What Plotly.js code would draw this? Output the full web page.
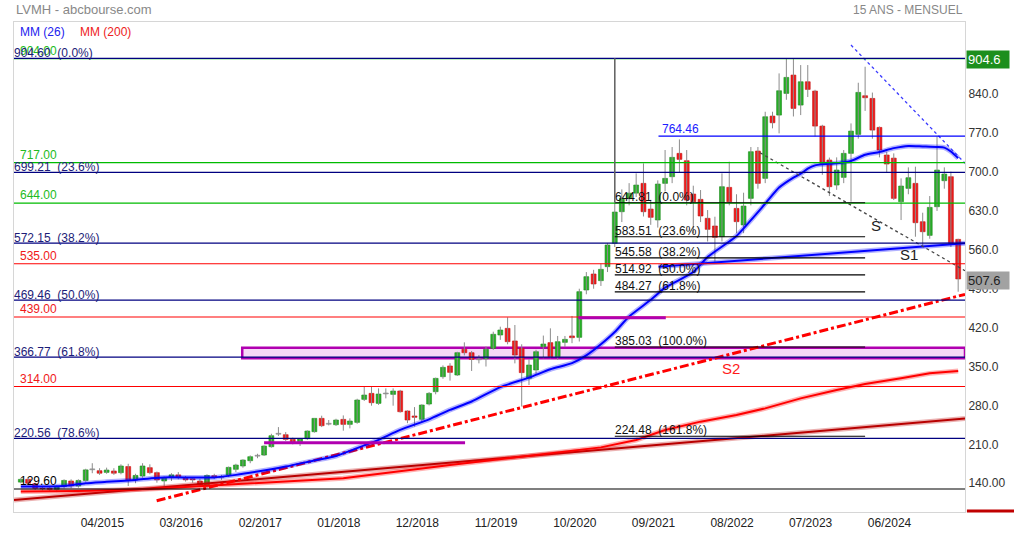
<!DOCTYPE html>
<html><head><meta charset="utf-8">
<script src="https://cdn.plot.ly/plotly-3.0.1.min.js"></script>
<style>html,body{margin:0;padding:0;background:#fff;}#chart{width:1014px;height:538px;}</style>
</head><body><div id="chart"></div>
<script>
// ---------- DATA ----------
const firstMonth = '2014-05';
const opens = [142,147,139,131,131,129,134,144,135,145,165,162.5,159.5,162,159,170,146,153,168,159,144,150,155,149,148,144,135,153.5,151,154.7,165,171,180.5,189.5,190.7,205.7,229,227.3,218.9,214.7,220.1,232.7,256.7,247,245.3,254.9,245.9,249.5,290.9,301.7,283.7,301.5,299.9,306,270,261,255,282.5,304.7,331.7,351,334.7,381,374.9,363,364,382.7,406.7,418.7,396,382.7,328.7,343.7,385.7,393,367.7,393.5,405,402.5,487.7,516.5,504.5,529.7,571.7,628.6,652,662,679.6,633.4,613.7,679.6,691.6,733.6,720.4,660.4,650.8,616.7,602.9,583.7,672.4,634.6,604.7,652.6,737.8,688.6,800.7,802.5,841.5,874.5,820.5,862.5,845.7,782.7,721.6,676.6,690.4,733.6,767.7,837.3,832.5,780.3,730.6,725,646.6,670.6,679.6,610.6,586,637.6,684.4,691.6,578.8];
const highs = [149,149,141,135,134,136,147,147,147,166,176,167,168,167,174,175,157,176,174,161,152,158,160,153,151,148,156,157,155,170,175,183,190,193,208,229,241,232,222,221,235,257,261.5,253.7,256,262,256.7,292,313.7,313.7,310.7,310.7,310.7,308,271,277,282,304,330,352,356,376.5,393.5,378,370.7,386,412.7,421.7,438.5,424.7,390,362.9,380,405.7,418.7,405,405,441,490,520,524,535,572,645,668.8,680,697.6,715.6,650,685,739.6,745,758.8,739.6,675.4,667.6,631.6,619.6,697.6,718.6,660,662.8,745,745,808.5,808.5,877.5,904.6,903.3,892.5,892.5,848,785,726,726.4,739.6,787.5,860.7,889.5,843,782,736.6,733.6,688.6,708.4,709.6,626.8,656.8,764,708.4,700.6,580];
const lows = [140,138,128,127,126,124,131,131,132,143,158,155,157,155,156,135,140,150,156,141,135,144,147,143,141,133,132,148,146,151,160,168,176,185,189,204,225,216,210,207,218,231,241,244,243,234.5,238.7,247,288,279.5,281,292.7,279.5,267,248,242,250,280,300,328,324.6,333,370,342,355.7,350,380,398,390,355.7,278,316.7,335,364.7,364.7,362,385,392,395,480,490,495,520,565,610,640,655,620,605,600,665,680,700,640,590,610,575,538.6,575,640,590,590,640,670,680,778.6,769.6,830,800,802.5,835,764,695,656.8,668,680,646.6,760,810,760,726.4,700,649.6,613.6,660,583.6,565.6,580,630,670,565,484.6];
const closes = [147,140,131,130,129,133,145,135,145,164,165,158,163.7,158,171,146,154,171,159,146,149,155,150.5,146,146,137,154,151,151,168.5,172.7,181.7,187.7,189.5,206.9,225.5,229,218.9,213.5,219.5,233.9,256.7,243.5,247,253.7,245.9,251.9,289.7,298.7,284.9,300.5,301.5,305.9,268.7,253.7,258.6,280.7,301.7,328.7,348.5,339.5,374.9,374.9,362.9,363,381,408,415.7,394.7,370.7,339,352.7,376.7,390.5,367.7,394.7,398.9,401.9,484.7,511.7,498.5,524.9,568.7,628,652.6,662,676.6,628.6,618.5,678.4,688.6,726.4,722.8,649.6,646.6,620.9,596.9,582.5,673.6,646.6,610.7,638.8,736.6,679.6,799.5,788.7,846.3,870.3,814.5,862.5,848.7,782.7,715.6,673.6,703.6,733.6,773.7,843.3,833.7,775.5,739.6,714.4,652.6,674.8,689.8,608.8,592.6,636.4,703.6,696.4,571.6,507.6];

// moving averages read at sample months
const ma26Months = ['2014-05','2014-11','2015-02','2015-05','2015-09','2015-11','2016-01','2016-08','2016-11','2017-02','2017-06','2017-10','2018-01','2018-05','2018-07','2018-10','2019-02','2019-05','2019-08','2019-12','2020-04','2020-07','2020-10','2020-12','2021-02','2021-04','2021-06','2021-09','2021-11','2022-03','2022-05','2022-08','2022-09','2023-01','2023-03','2023-05','2023-06','2023-07','2023-08','2023-09','2023-11','2024-01','2024-03','2024-05','2024-07','2024-09','2024-11','2025-01','2025-02','2025-03','2025-04'];
const ma26Values = [134,135,140,142.5,146,148.5,150.5,150.5,155,161,170,181,189,208,218,236,255,272,287,313,330,345,356,370,390,412,440,470,492,520,547,575,585,643,672,690,697,706,712,714,716,720,731,736,743,747,746,745,744,737,725];
const ma200Months = ['2014-05','2015-01','2015-11','2016-11','2018-02','2019-05','2020-06','2021-02','2021-07','2021-11','2022-04','2022-09','2023-01','2023-06','2023-11','2024-03','2024-08','2024-12','2025-04'];
const ma200Values = [125,126,129.6,138.6,149,172.6,192.4,204.5,217.8,235.8,250.8,262.8,274.7,292.7,307.7,318.5,328.7,337.7,341.9];

// horizontal levels
const navyLevels = [904.60, 699.21, 572.15, 469.46, 366.77, 220.56];
const navyPct = ['0.0%','23.6%','38.2%','50.0%','61.8%','78.6%'];
const greenLevels = [904.00, 717.00, 644.00];
const redLevels = [535.00, 439.00, 314.00];
const baseLevels = [129.60];
const fib2Levels = [644.81, 583.51, 545.58, 514.92, 484.27, 385.03, 224.48];
const fib2Pct = ['0.0%','23.6%','38.2%','50.0%','61.8%','100.0%','161.8%'];
const fib2Span = ['2021-04-01','2024-03-01'];
const resistLevel = 764.46, resistStart = '2021-10-04';
const zoneStart = '2016-11-28', zoneLow = 364.8, zoneHigh = 383.8;
const magentaFrom = ['2020-10-28','2017-03-01'], magentaTo = ['2021-11-04','2019-07-04'], magentaLevel = [437.8, 212.9];

// trend lines [start, end]
const chartStart = '2014-04-02', chartEnd = '2025-04-30';
const darkTrendX = [chartStart, chartEnd], darkTrendY = [109.8, 256.4];
const s2X = ['2015-11-30', chartEnd], s2Y = [108.5, 479.9];
const s1X = ['2021-10-04', chartEnd], s1Y = [529.6, 571.7];
const sX = ['2022-12-10', chartEnd], sY = [734.7, 522.4];
const blueDotX = ['2024-01-01', chartEnd], blueDotY = [928.5, 715.7];
const lastPrice = 507.6, highPrice = 904.6;

const tickMonths = ['2015-04','2016-03','2017-02','2018-01','2018-12','2019-11','2020-10','2021-09','2022-08','2023-07','2024-06'];
const tickLabels = ['04/2015','03/2016','02/2017','01/2018','12/2018','11/2019','10/2020','09/2021','08/2022','07/2023','06/2024'];
const yTicks = [140,210,280,350,420,490,560,630,700,770,840,910];
const yTickText = ['140.00','210.0','280.0','350.0','420.0','490.0','560.0','630.0','700.0','770.0','840.0','910.0'];

// ---------- BUILD ----------
function monthList(start, count){
  let [y,m] = start.split('-').map(Number); const out=[];
  for(let i=0;i<count;i++){ out.push(y+'-'+String(m).padStart(2,'0')+'-01'); m++; if(m>12){m=1;y++;} }
  return out;
}
const months = monthList(firstMonth, closes.length);
const bodyBase = [], bodyH = [], bodyCol = [], bodyLine = [];
for(let i=0;i<closes.length;i++){
  const o=opens[i], c=closes[i];
  const lo=Math.min(o,c), h=Math.abs(c-o);
  if(h<1){ bodyBase.push(lo-0.8); bodyH.push(1.6); bodyCol.push('#9a9a9a'); bodyLine.push('#8a8a8a'); }
  else { bodyBase.push(lo); bodyH.push(h); bodyCol.push(c>o?'#27b027':'#ee1c1c'); bodyLine.push(c>o?'#1c8c1c':'#c41010'); }
}
const FONT = 'Liberation Sans, Arial, sans-serif';
const traces = [
  {type:'ohlc', x:months, open:opens, high:highs, low:lows, close:closes, tickwidth:0,
   increasing:{line:{color:'#8c8c8c', width:1}}, decreasing:{line:{color:'#8c8c8c', width:1}}, hoverinfo:'skip'},
  {type:'bar', x:months, y:bodyH, base:bodyBase, width:1.8e9,
   marker:{color:bodyCol, line:{color:bodyLine, width:0.6}}, hoverinfo:'skip'},
  {type:'scatter', mode:'lines', x:darkTrendX, y:darkTrendY, line:{color:'rgba(190,0,0,0.3)', width:5}, hoverinfo:'skip'},
  {type:'scatter', mode:'lines', x:darkTrendX, y:darkTrendY, line:{color:'#b80000', width:2}, hoverinfo:'skip'},
  {type:'scatter', mode:'lines', x:ma200Months.map(m=>m+'-01'), y:ma200Values, line:{color:'rgba(255,0,0,0.3)', width:5}, hoverinfo:'skip'},
  {type:'scatter', mode:'lines', x:ma200Months.map(m=>m+'-01'), y:ma200Values, line:{color:'#ff0000', width:2}, hoverinfo:'skip'},
  {type:'scatter', mode:'lines', x:s2X, y:s2Y, line:{color:'#ff0000', width:3, dash:'dashdot'}, hoverinfo:'skip'},
  {type:'scatter', mode:'lines', x:ma26Months.map(m=>m+'-01'), y:ma26Values, line:{color:'rgba(0,0,255,0.3)', width:5, shape:'spline', smoothing:0.6}, hoverinfo:'skip'},
  {type:'scatter', mode:'lines', x:ma26Months.map(m=>m+'-01'), y:ma26Values, line:{color:'#0000ff', width:2, shape:'spline', smoothing:0.6}, hoverinfo:'skip'},
  {type:'scatter', mode:'lines', x:s1X, y:s1Y, line:{color:'rgba(0,0,255,0.3)', width:5}, hoverinfo:'skip'},
  {type:'scatter', mode:'lines', x:s1X, y:s1Y, line:{color:'#0000ff', width:2}, hoverinfo:'skip'},
  {type:'scatter', mode:'lines', x:sX, y:sY, line:{color:'#444', width:1.3, dash:'dot'}, hoverinfo:'skip'},
  {type:'scatter', mode:'lines', x:blueDotX, y:blueDotY, line:{color:'#3a3aff', width:1.3, dash:'dot'}, hoverinfo:'skip'}
];

const shapes = [];
const annotations = [];
const hline = (v, color, w, x0, x1, xref) => ({type:'line', xref:xref||'paper', yref:'y', x0:x0===undefined?0:x0, x1:x1===undefined?1:x1, y0:v, y1:v, line:{color:color, width:w}});
shapes.push({type:'rect', layer:'below', xref:'x', yref:'y', x0:zoneStart, x1:chartEnd, y0:zoneLow, y1:zoneHigh, fillcolor:'#f6d8f6', line:{color:'#b000b0', width:2.5}});
greenLevels.forEach(v=>{ shapes.push(hline(v,'#00bb00',1.3));
  annotations.push({xref:'paper', yref:'y', x:0, y:v, xanchor:'left', yanchor:'bottom', xshift:4, yshift:-1, text:v.toFixed(2), showarrow:false, font:{color:'#22bb22', size:12}}); });
redLevels.forEach(v=>{ shapes.push(hline(v,'#ff0000',1.1));
  annotations.push({xref:'paper', yref:'y', x:0, y:v, xanchor:'left', yanchor:'bottom', xshift:4, yshift:-1, text:v.toFixed(2), showarrow:false, font:{color:'#f01818', size:12}}); });
baseLevels.forEach(v=>{ shapes.push(hline(v,'#000000',1.1));
  annotations.push({xref:'paper', yref:'y', x:0, y:v, xanchor:'left', yanchor:'bottom', xshift:4, yshift:-1, text:v.toFixed(2), showarrow:false, font:{color:'#000', size:12}}); });
navyLevels.forEach((v,i)=>{ shapes.push(hline(v,'#000080',1.3));
  annotations.push({xref:'paper', yref:'y', x:0, y:v, xanchor:'left', yanchor:'bottom', xshift:-2, yshift:-4, text:v.toFixed(2)+'\u00a0\u00a0('+navyPct[i]+')', showarrow:false, font:{color:'#1c1c78', size:12}}); });
fib2Levels.forEach((v,i)=>{ shapes.push(hline(v,'#000000',1.1,fib2Span[0],fib2Span[1],'x'));
  annotations.push({xref:'x', yref:'y', x:fib2Span[0], y:v, xanchor:'left', yanchor:'bottom', xshift:-2, yshift:-3, text:v.toFixed(2)+'\u00a0\u00a0('+fib2Pct[i]+')', showarrow:false, font:{color:'#111', size:12}}); });
shapes.push({type:'line', xref:'x', yref:'y', x0:fib2Span[0], x1:fib2Span[0], y0:fib2Levels[0], y1:navyLevels[0], line:{color:'#666', width:1.6}});
shapes.push(hline(resistLevel,'#0000ff',1.2,resistStart,chartEnd,'x'));
annotations.push({xref:'x', yref:'y', x:resistStart, y:resistLevel, xanchor:'left', yanchor:'bottom', xshift:1, yshift:-2, text:resistLevel.toFixed(2), showarrow:false, font:{color:'#2020ff', size:12}});
magentaLevel.forEach((v,i)=>shapes.push(hline(v,'#b000b0',3,magentaFrom[i],magentaTo[i],'x')));
shapes.push({type:'line', xref:'paper', yref:'paper', x0:1.002, x1:1.052, y0:0.002, y1:0.002, line:{color:'#c00000', width:3}});

annotations.push({xref:'x', yref:'y', x:'2024-04-16', y:604.6, text:'S', showarrow:false, font:{color:'#222', size:15}});
annotations.push({xref:'x', yref:'y', x:'2024-09-04', y:552.4, text:'S1', showarrow:false, font:{color:'#222', size:15}});
annotations.push({xref:'x', yref:'y', x:'2022-08-10', y:347.3, text:'S2', showarrow:false, font:{color:'#ff1a1a', size:15}});
annotations.push({xref:'paper', yref:'paper', x:0, y:1, xanchor:'left', yanchor:'bottom', yshift:3, text:'LVMH - abcbourse.com', showarrow:false, font:{color:'#888', size:13}});
annotations.push({xref:'paper', yref:'paper', x:1, y:1, xanchor:'right', yanchor:'bottom', yshift:3, text:'15 ANS - MENSUEL', showarrow:false, font:{color:'#888', size:12}});
annotations.push({xref:'paper', yref:'paper', x:0, y:1, xanchor:'left', yanchor:'top', xshift:4, yshift:-1, text:'MM (26)', showarrow:false, font:{color:'#2222ee', size:12}});
annotations.push({xref:'paper', yref:'paper', x:0, y:1, xanchor:'left', yanchor:'top', xshift:64, yshift:-1, text:'MM (200)', showarrow:false, font:{color:'#ee2222', size:12}});
annotations.push({xref:'paper', yref:'y', x:1, y:highPrice, xanchor:'left', yanchor:'middle', xshift:1, yshift:-1, text:highPrice.toFixed(1), showarrow:false, bgcolor:'#1d8f1d', width:40, height:15, align:'left', borderpad:1, font:{color:'#fff', size:13}});
annotations.push({xref:'paper', yref:'y', x:1, y:lastPrice, xanchor:'left', yanchor:'middle', xshift:1, yshift:-2, text:lastPrice.toFixed(1), showarrow:false, bgcolor:'#a2a2a2', width:40, height:15, align:'left', borderpad:1, font:{color:'#222', size:13}});

const layout = {
  width:1014, height:538, margin:{l:14, r:49, t:22, b:26},
  paper_bgcolor:'#fff', plot_bgcolor:'#fff', showlegend:false, hovermode:false,
  barmode:'overlay', font:{family:FONT, size:12, color:'#333'},
  xaxis:{type:'date', range:[chartStart, chartEnd], rangeslider:{visible:false}, showgrid:false, zeroline:false,
    tickvals:tickMonths.map(m=>m+'-13'), ticktext:tickLabels, ticks:'', showline:true, mirror:true, linecolor:'#d6d6d6', linewidth:1,
    tickfont:{size:12, color:'#222'}},
  yaxis:{side:'right', range:[88.2, 970], tickvals:yTicks, ticktext:yTickText, showgrid:false, zeroline:false,
    showline:true, mirror:true, linecolor:'#d6d6d6', linewidth:1, ticks:'', tickfont:{size:12, color:'#333'}},
  shapes:shapes, annotations:annotations
};
Plotly.newPlot('chart', traces, layout, {staticPlot:true, displayModeBar:false});
</script></body></html>
